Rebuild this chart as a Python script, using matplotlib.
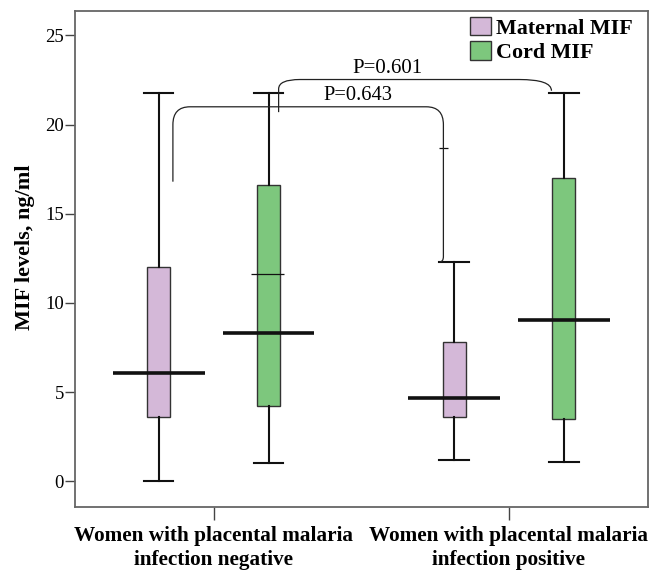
import matplotlib
matplotlib.use("Agg")
import matplotlib.pyplot as plt
from matplotlib.path import Path
from matplotlib.patches import PathPatch, Patch

plt.rcParams["font.family"] = ["Liberation Serif", "DejaVu Serif"]

# data
groups = ["Women with placental malaria\ninfection negative",
          "Women with placental malaria\ninfection positive"]
series = ["Maternal MIF", "Cord MIF"]
colors = ["#D4B8D8", "#7DC77D"]

# per series: [negative, positive]
whislo = {"Maternal MIF": [0.0, 1.2], "Cord MIF": [1.0, 1.1]}
q1 = {"Maternal MIF": [3.6, 3.6], "Cord MIF": [4.2, 3.5]}
med = {"Maternal MIF": [6.05, 4.65], "Cord MIF": [8.3, 9.05]}
q3 = {"Maternal MIF": [12.0, 7.8], "Cord MIF": [16.6, 17.0]}
whishi = {"Maternal MIF": [21.8, 12.3], "Cord MIF": [21.8, 21.8]}

# stray thin marks in the original (x position, y value, half width)
thin_marks = [(0.181, 11.6, 0.056), (0.778, 18.7, 0.014)]

p_labels = ["P=0.643", "P=0.601"]

OFFSET = 0.186
BOX_W = 0.078

fig = plt.figure(figsize=(6.51, 5.72), dpi=100)
ax = fig.add_axes([0.115, 0.1136, 0.880, 0.868])

for i, s in enumerate(series):
    pos = [g + (-OFFSET if i == 0 else OFFSET) for g in range(len(groups))]
    stats = [dict(whislo=whislo[s][g], q1=q1[s][g], med=med[s][g],
                  q3=q3[s][g], whishi=whishi[s][g], fliers=[])
             for g in range(len(groups))]
    ax.bxp(stats, positions=pos, widths=BOX_W, capwidths=0.1,
           patch_artist=True, showfliers=False,
           boxprops=dict(facecolor=colors[i], edgecolor="#333333", lw=1.0),
           whiskerprops=dict(color="#111111", lw=1.5),
           capprops=dict(color="#111111", lw=1.5),
           medianprops=dict(visible=False), manage_ticks=False, zorder=2)
    ax.hlines(med[s], [p - 0.155 for p in pos], [p + 0.155 for p in pos],
              color="#111111", lw=2.6, zorder=3)

for x, y, hw in thin_marks:
    ax.hlines(y, x - hw, x + hw, color="#111111", lw=0.9, zorder=3)


def bracket(pts, codes):
    ax.add_patch(PathPatch(Path(pts, codes), fill=False, lw=0.9,
                           edgecolor="#222222", zorder=4))


M, L, C = Path.MOVETO, Path.LINETO, Path.CURVE3
# P=0.643 : maternal negative -> maternal positive
bracket([(-0.138, 16.8), (-0.138, 20.0), (-0.138, 21.0), (-0.08, 21.0),
         (0.72, 21.0), (0.778, 21.0), (0.778, 20.0), (0.778, 12.6),
         (0.778, 12.3), (0.765, 12.3)],
        [M, L, C, C, L, C, C, L, C, C])
# P=0.601 : cord negative -> cord positive
bracket([(0.22, 20.7), (0.22, 22.0), (0.22, 22.53), (0.292, 22.53),
         (1.035, 22.53), (1.144, 22.53), (1.144, 21.9)],
        [M, L, C, C, L, C, C])

ax.text(0.488, 21.1, p_labels[0], ha="center", va="bottom", fontsize=14.8)
ax.text(0.589, 22.62, p_labels[1], ha="center", va="bottom", fontsize=15)

ax.set_xlim(-0.47, 1.47)
ax.set_ylim(-1.45, 26.4)
ax.set_yticks([0, 5, 10, 15, 20, 25])
ax.set_xticks(range(len(groups)))
ax.set_xticklabels(groups, fontsize=15.3, fontweight="bold", linespacing=1.25)
ax.tick_params(axis="y", labelsize=13.5, length=7, width=1.0, pad=1,
               color="#444444")
ax.tick_params(axis="x", length=9.5, width=1.0, pad=4, color="#444444")
ax.set_ylabel("MIF levels, ng/ml", fontsize=16, fontweight="bold")
ax.yaxis.set_label_coords(-0.069, 0.523)
for sp in ax.spines.values():
    sp.set_color("#666666")
    sp.set_linewidth(1.3)

handles = [Patch(facecolor=c, edgecolor="#333333", lw=1.0) for c in colors]
ax.legend(handles, series, loc="upper left", bbox_to_anchor=(0.689, 0.987),
          frameon=False, borderpad=0, borderaxespad=0,
          handlelength=0.97, handleheight=0.92, handletextpad=0.23,
          labelspacing=0.12, prop=dict(size=15.8, weight="bold"))

fig.savefig("out.png", dpi=100)
